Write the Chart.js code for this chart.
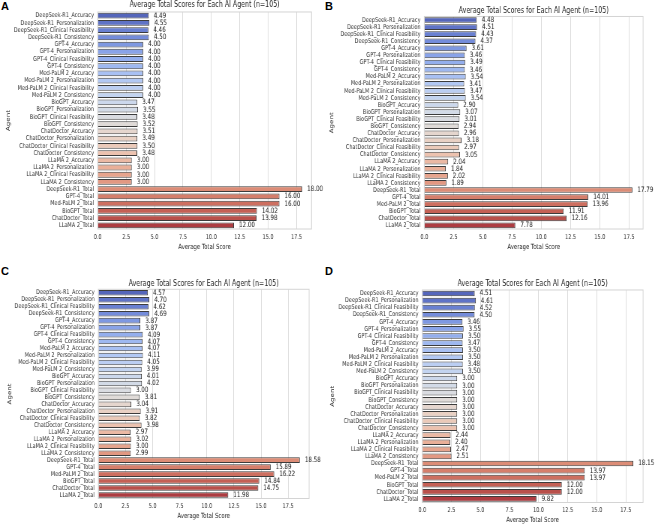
<!DOCTYPE html>
<html>
<head>
<meta charset="utf-8">
<script src="https://cdn.jsdelivr.net/npm/chart.js@4.4.1/dist/chart.umd.min.js"></script>
<style>
  body { margin: 0; background: #fff; width: 656px; height: 525px; overflow: hidden; position: relative; }
  .panel { position: absolute; transform-origin: 0 0; transform: scaleX(0.75); }
  .panel canvas { display: block; }
  .tag { position: absolute; font: bold 11px "Liberation Sans", Arial, sans-serif; color: #000; line-height: 11px; }
</style>
</head>
<body>
<div class="tag" style="left:1px;top:1px">A</div>
<div class="tag" style="left:325px;top:1px">B</div>
<div class="tag" style="left:1px;top:266px">C</div>
<div class="tag" style="left:325px;top:266px">D</div>
<div class="panel" style="left:0px;top:0px"><canvas id="chartA"></canvas></div>
<div class="panel" style="left:328px;top:0px"><canvas id="chartB"></canvas></div>
<div class="panel" style="left:0px;top:262px"><canvas id="chartC"></canvas></div>
<div class="panel" style="left:328px;top:262px"><canvas id="chartD"></canvas></div>
<script>
const agents = ['DeepSeek-R1', 'GPT-4', 'Med-PaLM 2', 'BioGPT', 'ChatDoctor', 'LLaMA 2'];
const metrics = ['Accuracy', 'Personalization', 'Clinical Feasibility', 'Consistency'];

const labels = [];
agents.forEach(a => metrics.forEach(m => labels.push(a + '_' + m)));
agents.forEach(a => labels.push(a + '_Total'));

// per panel: 24 criterion scores then 6 totals
const scoresA = [
    4.49, 4.55, 4.46, 4.50,
    4.00, 4.00, 4.00, 4.00,
    4.00, 4.00, 4.00, 4.00,
    3.47, 3.55, 3.48, 3.52,
    3.51, 3.49, 3.50, 3.48,
    3.00, 3.00, 3.00, 3.00,
    18.00, 16.00, 16.00, 14.02, 13.98, 12.00
];
const scoresB = [
    4.48, 4.51, 4.43, 4.37,
    3.61, 3.46, 3.49, 3.46,
    3.54, 3.41, 3.47, 3.54,
    2.90, 3.07, 3.01, 2.94,
    2.96, 3.18, 2.97, 3.05,
    2.04, 1.84, 2.02, 1.89,
    17.79, 14.01, 13.96, 11.91, 12.16, 7.78
];
const scoresC = [
    4.57, 4.70, 4.62, 4.69,
    3.87, 3.87, 4.09, 4.07,
    4.07, 4.11, 4.05, 3.99,
    4.01, 4.02, 3.00, 3.81,
    3.04, 3.91, 3.82, 3.98,
    2.97, 3.02, 3.00, 2.99,
    18.58, 15.89, 16.22, 14.84, 14.75, 11.98
];
const scoresD = [
    4.51, 4.61, 4.52, 4.50,
    3.46, 3.55, 3.50, 3.47,
    3.50, 3.50, 3.48, 3.50,
    3.00, 3.00, 3.00, 3.00,
    3.00, 3.00, 3.00, 3.00,
    2.44, 2.40, 2.47, 2.51,
    18.15, 13.97, 13.97, 12.00, 12.00, 9.82
];
const xMaxes = [18.82, 18.70, 19.43, 18.99];
const xStep = 2.5;

const titleText = 'Average Total Scores for Each AI Agent (n=105)';
const FONT = '"DejaVu Sans", sans-serif';
const SX = 0.75;

// coolwarm colormap, sampled like seaborn and desaturated to 0.75
const coolwarm = [
    [59,76,192],[68,90,204],[77,104,215],[87,117,225],[98,130,234],[108,142,241],
    [119,154,247],[130,165,251],[141,176,254],[152,185,255],[163,194,255],[174,201,253],
    [184,208,249],[194,213,244],[204,217,238],[213,219,230],[221,221,221],[229,216,209],
    [236,211,197],[241,204,184],[245,196,172],[247,187,160],[247,177,148],[247,166,135],
    [244,154,123],[241,141,111],[236,127,99],[229,112,88],[222,96,77],[213,80,66],
    [203,62,56],[192,40,47],[180,4,38]
];
function cmap(t) {
    const p = t * (coolwarm.length - 1);
    const i = Math.min(Math.floor(p), coolwarm.length - 2);
    const f = p - i;
    return coolwarm[i].map((c, k) => (c + (coolwarm[i + 1][k] - c) * f) / 255);
}
function desat(rgb, s) {
    const mx = Math.max(...rgb), mn = Math.min(...rgb);
    const l = (mx + mn) / 2;
    if (mx === mn) return rgb;
    const d = mx - mn;
    let sat = l > 0.5 ? d / (2 - mx - mn) : d / (mx + mn);
    sat *= s;
    const c = (1 - Math.abs(2 * l - 1)) * sat;
    const nmx = l + c / 2, nmn = l - c / 2;
    return rgb.map(v => nmn + (v - mn) / d * (nmx - nmn));
}
const barColors = labels.map((_, i) => {
    const c = desat(cmap((i + 1) / (labels.length + 1)), 0.75);
    return 'rgb(' + c.map(v => Math.round(v * 255)).join(',') + ')';
});

const framePlugin = {
    id: 'frame',
    beforeDatasetsDraw(chart) {
        const a = chart.chartArea, ctx = chart.ctx;
        ctx.save();
        ctx.strokeStyle = '#d4d4d4';
        ctx.lineWidth = 1;
        ctx.strokeRect(a.left, a.top, a.right - a.left, a.bottom - a.top);
        ctx.restore();
    }
};
const valuePlugin = {
    id: 'values',
    afterDatasetsDraw(chart) {
        const ctx = chart.ctx;
        const meta = chart.getDatasetMeta(0);
        const vals = chart.data.datasets[0].data;
        ctx.save();
        ctx.font = '7.4px ' + FONT;
        ctx.fillStyle = '#222';
        ctx.textAlign = 'left';
        ctx.textBaseline = 'middle';
        meta.data.forEach((bar, i) => {
            ctx.fillText(vals[i].toFixed(2), bar.x + 6.7, bar.y);
        });
        ctx.restore();
    }
};

const panels = [
    { id: 'chartA', data: scoresA, w: 328, h: 262, yW: 130.3, padR: 21.7, tTop: 0, tBot: 1.9, xH: 33, xPb: 10.7, yPt: 6.4 },
    { id: 'chartB', data: scoresB, w: 328, h: 262, yW: 128.4, padR: 16.9, tTop: 5.5, tBot: 0.9, xH: 33, xPb: 10.7, yPt: 1.0 },
    { id: 'chartC', data: scoresC, w: 328, h: 263, yW: 131.1, padR: 24.9, tTop: 16.3, tBot: 0.9, xH: 26.5, xPb: 4.7, yPt: 9.0 },
    { id: 'chartD', data: scoresD, w: 328, h: 263, yW: 125.7, padR: 16.9, tTop: 16.5, tBot: 1.4, xH: 22.5, xPb: 0.7, yPt: 1.7 }
];

panels.forEach((p, n) => {
    const canvas = document.getElementById(p.id);
    canvas.width = Math.round(p.w / SX);
    canvas.height = p.h;
    new Chart(canvas, {
        type: 'bar',
        data: {
            labels: labels,
            datasets: [{
                data: p.data,
                backgroundColor: barColors,
                borderColor: '#3c3c3c',
                borderWidth: 1,
                barPercentage: 0.8,
                categoryPercentage: 1.0
            }]
        },
        options: {
            indexAxis: 'y',
            responsive: false,
            animation: false,
            devicePixelRatio: 1,
            layout: { padding: { left: 0, right: p.padR, top: 0, bottom: 0 } },
            plugins: {
                legend: { display: false },
                tooltip: { enabled: false },
                title: {
                    display: true,
                    text: titleText,
                    fullSize: false,
                    color: '#262626',
                    font: { family: FONT, size: 8.4, weight: 'normal' },
                    padding: { top: p.tTop, bottom: p.tBot }
                }
            },
            scales: {
                x: {
                    min: 0,
                    max: xMaxes[n],
                    grid: { color: '#dcdcdc', drawTicks: false },
                    border: { display: false },
                    ticks: {
                        stepSize: xStep,
                        includeBounds: false,
                        padding: 4,
                        color: '#333',
                        font: { family: FONT, size: 6.6 },
                        callback: v => v.toFixed(1)
                    },
                    title: {
                        display: true,
                        text: 'Average Total Score',
                        color: '#262626',
                        font: { family: FONT, size: 7.1 },
                        padding: { top: 0, bottom: p.xPb }
                    },
                    afterFit: s => { s.height = p.xH; }
                },
                y: {
                    grid: { display: false, drawTicks: false },
                    border: { display: false },
                    ticks: {
                        padding: 5,
                        color: '#333',
                        autoSkip: false,
                        font: { family: FONT, size: 6.6 }
                    },
                    title: {
                        display: true,
                        text: 'Agent',
                        color: '#262626',
                        font: { family: FONT, size: 7.1 },
                        padding: { top: p.yPt, bottom: 0 }
                    },
                    afterFit: s => { s.width = p.yW; }
                }
            }
        },
        plugins: [framePlugin, valuePlugin]
    });
});
</script>
</body>
</html>
